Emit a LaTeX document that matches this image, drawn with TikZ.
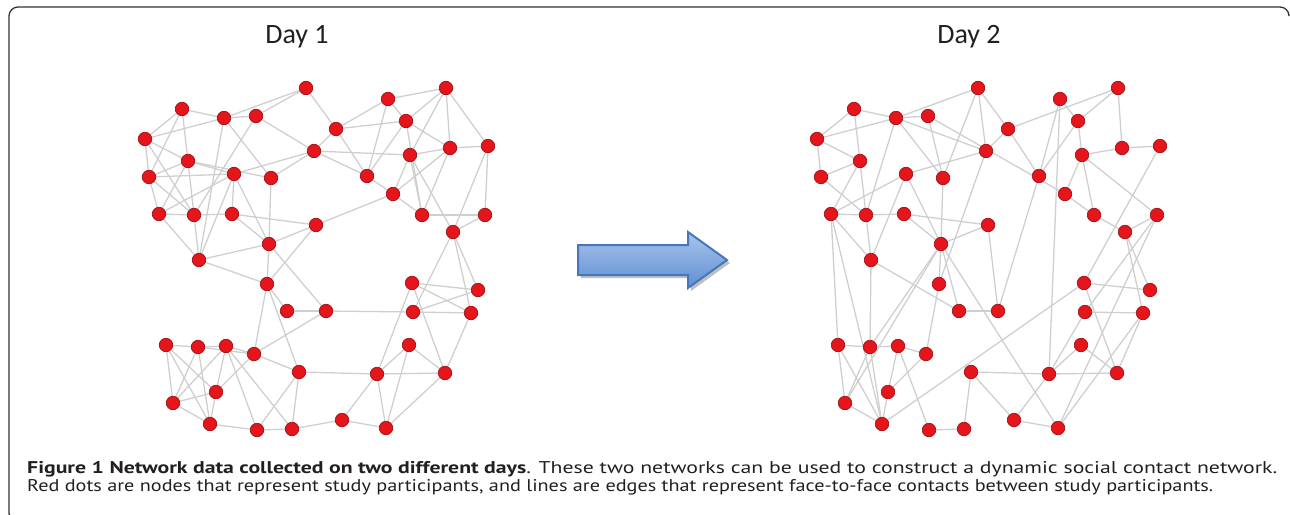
\documentclass[tikz,border=0pt]{standalone}
\usepackage{fontspec}
\setmainfont{PT Sans}
\newfontfamily\dayfont{Carlito}
\usetikzlibrary{backgrounds}
\definecolor{dotred}{HTML}{E5151B}
\definecolor{dotrim}{HTML}{9E1216}
\definecolor{linkgray}{HTML}{CFCFCF}
\definecolor{arrowrim}{HTML}{4677BB}
\definecolor{arrowtop}{HTML}{A9C4EC}
\definecolor{arrowbot}{HTML}{5F8FD3}
\definecolor{captext}{HTML}{231F20}
\tikzset{dot/.style={circle, fill=dotred, draw=dotrim, line width=0.7pt, minimum size=13.5pt, inner sep=0pt},
  link/.style={draw=linkgray, line width=1.3pt},
  daylabel/.style={font=\dayfont\fontsize{28}{30}\selectfont, text=captext, anchor=base, inner sep=0pt},
  capline/.style={anchor=base west, inner sep=0pt, text=captext, font=\fontsize{17}{20}\selectfont}}

% dot positions, same layout on both days
\newcommand{\dotpos}{1/306/88, 2/182/109, 3/224/118, 4/256/116, 5/145/139, 6/188/161, 7/149/177, 8/234/174,
  9/271/178, 10/159/214, 11/194/215, 12/232/214, 13/314/151, 14/336/129, 15/388/99, 16/446/88,
  17/406/121, 18/410/155, 19/450/148, 20/488/146, 21/367/176, 22/393/194, 23/422/215, 24/485/215,
  25/453/232, 26/316/225, 27/269/244, 28/199/260, 29/267/284, 30/287/311, 31/326/311, 32/412/283,
  33/478/290, 34/413/312, 35/471/313, 36/166/345, 37/198/347, 38/226/346, 39/254/354, 40/299/372,
  41/216/392, 42/173/403, 43/210/424, 44/257/430, 45/292/429, 46/342/420, 47/386/428, 48/377/374,
  49/409/345, 50/445/373}
\newcommand{\dayonelinks}{2/5, 2/3, 2/6, 2/7, 5/3, 5/6, 5/7, 5/11, 3/4, 3/1, 4/1, 3/9, 3/28, 4/13, 4/11,
  1/14, 14/13, 14/15, 14/17, 14/21, 13/18, 13/21, 13/8, 13/9, 6/7, 6/8, 6/9, 6/11, 6/10, 7/8, 7/11, 7/10,
  10/11, 10/8, 10/28, 11/12, 11/28, 8/12, 8/28, 8/27, 12/26, 12/27, 9/27, 26/27, 26/22, 27/28, 15/16,
  15/17, 15/21, 16/17, 16/18, 16/19, 16/20, 17/19, 17/21, 17/23, 18/19, 18/22, 18/23, 18/25, 19/20,
  19/22, 19/23, 20/24, 20/25, 21/22, 22/23, 23/24, 24/25, 28/29, 27/29, 27/31, 26/29, 29/30, 29/39,
  29/40, 30/31, 31/39, 31/34, 25/34, 25/35, 25/33, 32/33, 32/35, 32/48, 32/50, 34/33, 34/35, 35/50,
  49/48, 49/50, 49/47, 48/50, 48/46, 48/47, 47/50, 46/47, 46/45, 40/48, 40/39, 40/44, 40/45, 36/37,
  36/42, 36/43, 36/41, 37/38, 37/42, 37/43, 37/39, 38/39, 38/42, 38/41, 38/44, 38/45, 39/41, 41/42,
  41/43, 42/43, 43/44, 44/45}
\newcommand{\daytwolinks}{2/5, 2/3, 2/6, 6/11, 5/3, 5/6, 5/7, 3/4, 3/1, 3/13, 3/9, 3/11, 4/9, 4/22,
  1/13, 1/14, 1/9, 14/16, 14/13, 14/21, 15/17, 15/21, 15/48, 16/17, 16/19, 17/18, 17/21, 18/19, 18/22,
  18/23, 18/24, 19/20, 20/32, 22/23, 23/25, 24/25, 24/34, 24/47, 25/35, 25/33, 21/31, 13/29, 8/13, 8/10,
  8/28, 8/27, 6/7, 6/10, 7/11, 10/11, 10/28, 10/36, 10/43, 11/12, 11/28, 12/26, 12/27, 9/27, 26/27,
  26/31, 28/37, 28/30, 27/47, 27/29, 27/30, 27/37, 27/42, 29/39, 30/31, 32/33, 32/50, 32/43, 34/35,
  34/48, 35/50, 35/47, 49/48, 49/50, 48/50, 48/46, 46/47, 40/48, 40/46, 40/45, 44/45, 36/37, 36/42,
  36/43, 37/38, 37/43, 37/42, 38/39, 38/41, 38/44, 39/41, 41/43, 42/43}

\begin{document}
\begin{tikzpicture}[x=1pt,y=-1pt]
  \useasboundingbox (0,0) rectangle (1290,514);
  % frame
  \draw[line width=1.3pt, draw=black!80, rounded corners=9pt] (40,522) -- (9,522) -- (9,7) -- (1289,7) -- (1289,14);

  \node[daylabel] (dayone) at (297,43) {Day 1};
  \node[daylabel] (daytwo) at (969,43) {Day 2};

  % day 1
  \foreach \i/\x/\y in \dotpos
    \node[dot] (a\i) at (\x,\y) {};
  \begin{scope}[on background layer]
    \foreach \u/\v in \dayonelinks
      \draw[link] (a\u) -- (a\v);
  \end{scope}

  % day 2
  \begin{scope}[xshift=672pt]
    \foreach \i/\x/\y in \dotpos
      \node[dot] (b\i) at (\x,\y) {};
  \end{scope}
  \begin{scope}[on background layer]
    \foreach \u/\v in \daytwolinks
      \draw[link] (b\u) -- (b\v);
  \end{scope}

  % arrow between the days
  \fill[black!25] (581,248) -- (691,248) -- (691,235) -- (730,263) -- (691,291) -- (691,278) -- (581,278) -- cycle;
  \draw[draw=arrowrim, line width=2pt, top color=arrowtop, bottom color=arrowbot]
    (578,245) -- (688,245) -- (688,232) -- (727,260) -- (688,288) -- (688,275) -- (578,275) -- cycle;

  % caption
  \node[capline] (capone) at (27,473)
    {\resizebox{1250pt}{\height}{\textbf{Figure 1 Network data collected on two different days}. These two networks can be used to construct a dynamic social contact network.}};
  \node[capline] (captwo) at (27,491.5)
    {\resizebox{1186pt}{\height}{Red dots are nodes that represent study participants, and lines are edges that represent face-to-face contacts between study participants.}};
\end{tikzpicture}
\end{document}
